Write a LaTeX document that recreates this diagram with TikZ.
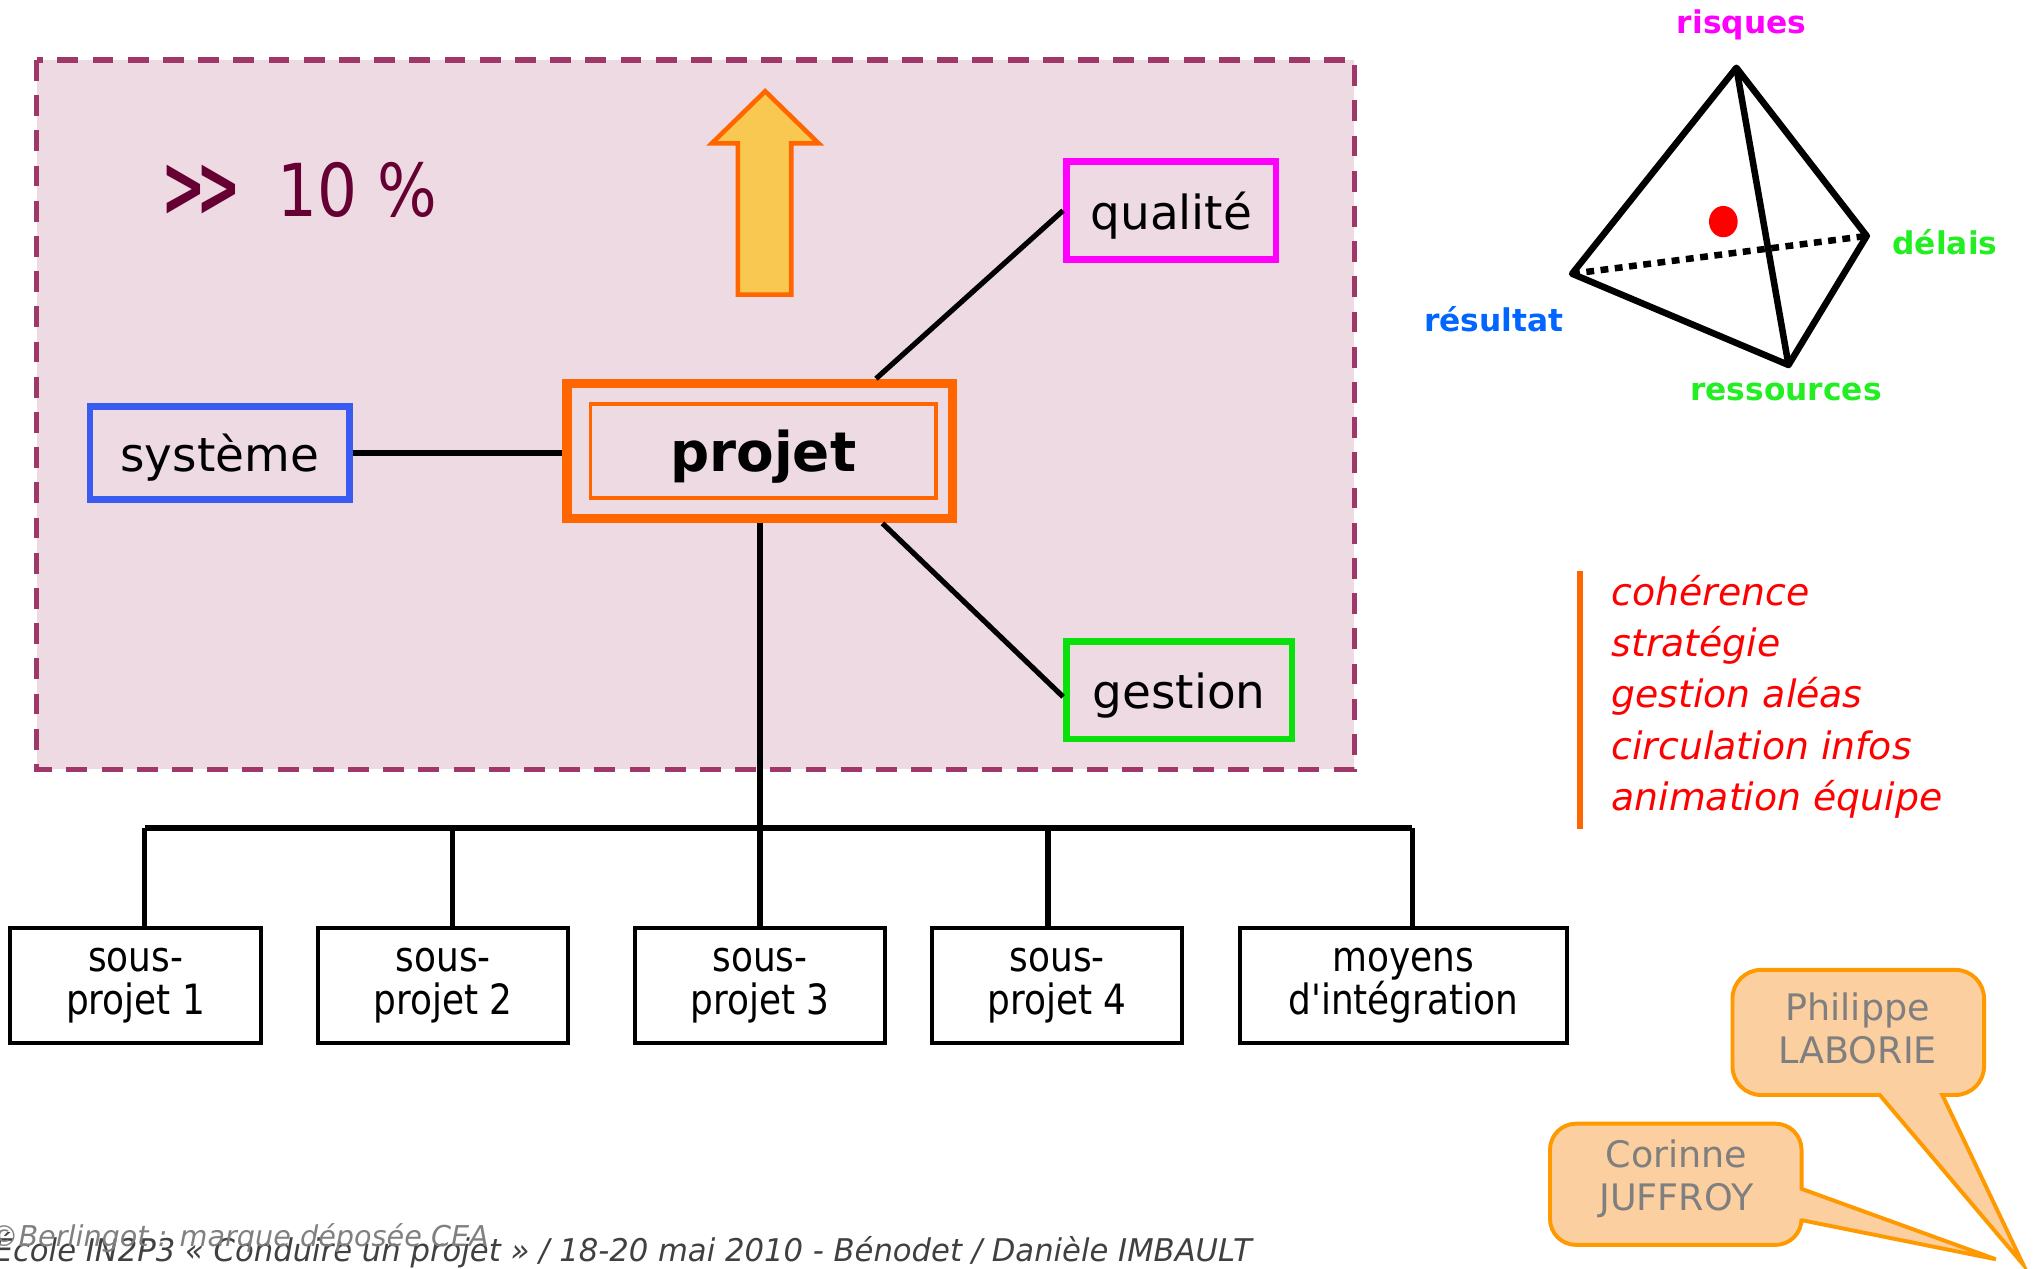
\documentclass[tikz,border=0pt]{standalone}
\usepackage{fontspec}
\setmainfont{DejaVu Sans}
\newfontfamily\condfont[FakeStretch=0.86]{DejaVu Sans}
\newfontfamily\footfont[FakeStretch=0.98]{DejaVu Sans}
\usetikzlibrary{calc}

\definecolor{frameline}{RGB}{160,55,105}
\definecolor{framefill}{RGB}{237,218,227}
\definecolor{maroon}{RGB}{102,0,51}
\definecolor{hotorange}{RGB}{255,102,0}
\definecolor{arrowfill}{RGB}{248,200,80}
\definecolor{boxmagenta}{RGB}{255,0,255}
\definecolor{boxblue}{RGB}{58,91,239}
\definecolor{boxgreen}{RGB}{10,224,10}
\definecolor{labelblue}{RGB}{0,102,255}
\definecolor{labelgreen}{RGB}{34,238,34}
\definecolor{calloutline}{RGB}{255,153,0}
\definecolor{calloutfill}{RGB}{251,207,160}
\definecolor{callouttext}{RGB}{127,127,127}
\definecolor{footgray}{RGB}{64,64,64}
\definecolor{footlight}{RGB}{128,128,128}

\tikzset{
  topicbox/.style={draw, line width=5pt, minimum height=75pt, inner sep=0pt,
    text depth=0pt, font=\fontsize{36}{40}\selectfont},
  subbox/.style={draw, line width=3pt, minimum width=192pt, minimum height=88pt,
    inner sep=0pt, align=center, font=\condfont\fontsize{32}{33}\selectfont},
  link/.style={line width=4pt},
  edge3d/.style={line width=5pt, line join=round},
  cornerlabel/.style={font=\bfseries\fontsize{24}{28}\selectfont},
  callout/.style={draw=calloutline, fill=calloutfill, line width=3pt},
  callouttext/.style={align=center, text=callouttext,
    font=\fontsize{28}{33}\selectfont}
}

\begin{document}
\begin{tikzpicture}[x=1pt,y=-1pt]
\useasboundingbox (0,0) rectangle (1568,973);

% shaded project area
\draw[frameline, fill=framefill, line width=4pt, dash pattern=on 16pt off 11pt]
  (28,46) rectangle (1039,590);

\node[anchor=base west, text=maroon, inner sep=0pt]
  (chev) at (124,166) {\scalebox{0.62}[1]{\fontsize{66}{70}\selectfont\bfseries >\kern-12pt>}};
\node[anchor=base west, text=maroon, font=\condfont\fontsize{56}{60}\selectfont, inner sep=0pt]
  (ratio) at (213,166) {10 \%};

% upward arrow
\draw[hotorange, fill=arrowfill, line width=3.5pt, line join=miter]
  (587,70) -- (628,110) -- (607,110) -- (607,226) -- (566,226) -- (566,110) -- (546,110) -- cycle;

% central boxes
\node[topicbox, draw=boxmagenta, minimum width=161pt] (qual) at (898.5,161.5) {qualité};
\node[topicbox, draw=boxblue, minimum width=199pt, minimum height=71pt] (sys) at (168.5,347.5) {système};
\node[topicbox, draw=boxgreen, minimum width=173pt] (gest) at (904.5,529.5) {gestion};
\node[draw=hotorange, line width=7pt, minimum width=296pt, minimum height=104pt, inner sep=0pt]
  (proj) at (583,346) {};
\node[draw=hotorange, line width=3pt, minimum width=265pt, minimum height=72pt, inner sep=0pt,
  text depth=0pt, font=\bfseries\fontsize{42}{46}\selectfont] (projin) at (585.5,346) {projet};

\draw[link] (sys.east) -- (sys.east -| proj.west);
\draw[link] ([xshift=89pt]proj.north) -- (qual.west);
\draw[link] ([xshift=94pt]proj.south) -- ([yshift=-5pt]gest.west);

% sub-project boxes
\node[subbox] (b1) at (104,756) {sous-\\projet 1};
\node[subbox] (b2) at (340,756) {sous-\\projet 2};
\node[subbox] (b3) at (583,756) {sous-\\projet 3};
\node[subbox] (b4) at (811,756) {sous-\\projet 4};
\node[subbox, minimum width=251pt] (b5) at (1076.5,756) {moyens\\d'intégration};

\coordinate (bus) at (0,635);
\draw[link] (proj.south) -- (b3.north);
\draw[line width=5pt] ([xshift=7pt]b1.north |- bus) -- ([xshift=7pt]b5.north |- bus);
\draw[link] ([xshift=7pt]b1.north) -- ([xshift=7pt]b1.north |- bus);
\draw[link] ([xshift=7pt]b2.north) -- ([xshift=7pt]b2.north |- bus);
\draw[link] ([xshift=-7pt]b4.north) -- ([xshift=-7pt]b4.north |- bus);
\draw[link] ([xshift=7pt]b5.north) -- ([xshift=7pt]b5.north |- bus);

% tetrahedron of constraints
\coordinate (top) at (1332,52);
\coordinate (lft) at (1206,210);
\coordinate (rgt) at (1432,181);
\coordinate (bot) at (1372,280);
\draw[edge3d] (lft) -- (top) -- (rgt) -- (bot) -- cycle;
\draw[edge3d] (top) -- (bot);
\draw[line width=5pt, dash pattern=on 6pt off 5pt] (lft) -- (rgt);
\fill[red] (1322,170) ellipse (11pt and 12pt);

\node[cornerlabel, text=boxmagenta] (lrisk) at (1336,19) {risques};
\node[cornerlabel, text=labelgreen] (ldel) at (1492,186) {délais};
\node[cornerlabel, text=labelblue] (lres) at (1146,245) {résultat};
\node[cornerlabel, text=labelgreen] (lrsc) at (1370,301) {ressources};

% management list
\draw[hotorange, line width=5pt] (1212,438) -- (1212,636);
\node[anchor=north west, align=left, text=red, inner sep=0pt,
  font=\itshape\fontsize{29}{39.3}\selectfont] (tasks) at (1236,441)
  {cohérence\\stratégie\\gestion aléas\\circulation infos\\animation équipe};

% speech bubbles
\draw[callout] (1490,840) -- (1552,970) -- (1442,840) [rounded corners=22pt]
  -- (1329,840) -- (1329,744) -- (1522,744) -- (1522,840) [sharp corners] -- cycle;
\node[callouttext] (phil) at (1425,789) {Philippe\\LABORIE};

\draw[callout] (1382,936) -- (1531,966) -- (1382,912) [rounded corners=20pt]
  -- (1382,862) -- (1189,862) -- (1189,955) -- (1382,955) [sharp corners] -- cycle;
\node[callouttext] (cor) at (1286,904) {Corinne\\JUFFROY};

% footer
\node[anchor=base west, inner sep=0pt, text=footgray,
  font=\footfont\itshape\fontsize{24}{28}\selectfont] (foot) at (-5,968)
  {École IN2P3 « Conduire un projet » / 18-20 mai 2010 - Bénodet / Danièle IMBAULT};
\node[anchor=base west, inner sep=0pt, text=footlight,
  font=\itshape\fontsize{22}{24}\selectfont] (mark) at (-8,956)
  {©Berlingot : marque déposée CEA};
\end{tikzpicture}
\end{document}
